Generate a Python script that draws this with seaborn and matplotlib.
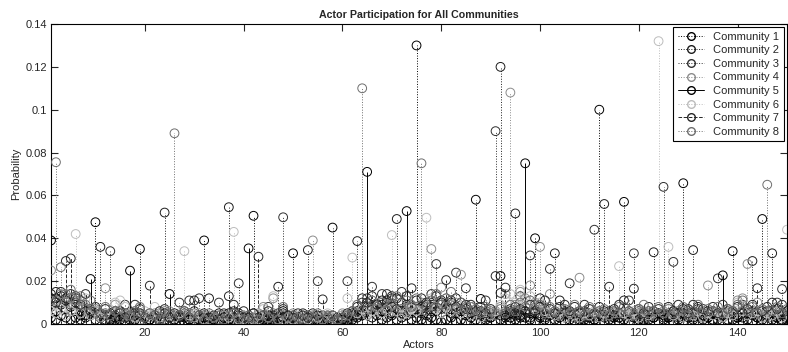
import numpy as np
import pandas as pd
import matplotlib
matplotlib.use("Agg")
import matplotlib.pyplot as plt
from matplotlib.lines import Line2D
from matplotlib.legend_handler import HandlerLine2D
from matplotlib.ticker import MultipleLocator, FuncFormatter
import seaborn as sns

# participation of each actor in each community, in units of 1e-3
actors = list(range(1, 151))

c1 = [39, 12, 9, 11, 8, 6, 4, 3, 5, 47.5, 3, 2, 4, 2, 3, 1, 2, 4, 35, 3, 2, 1, 3, 2, 4,
      2, 3, 1, 2, 3, 2, 39, 3, 2, 1, 3, 5, 2, 3, 1, 2, 50.5, 3, 2, 4, 2, 3, 6, 2, 33,
      2, 1, 3, 2, 1, 2, 1, 45, 2, 3, 2, 4, 6, 5, 8, 7, 9, 6, 8, 5, 7, 6, 9, 8, 130,
      7, 9, 6, 8, 10, 7, 6, 5, 7, 4, 5, 58, 11.7, 4, 3, 5, 22.4, 4, 3, 5, 4, 3, 5, 40, 4,
      3, 5, 4, 3, 5, 4, 3, 2, 4, 3, 2, 100, 3, 5, 4, 3, 57, 4, 5, 3, 2, 4, 3, 5, 4,
      3, 4, 5, 65.7, 4, 3, 5, 4, 3, 2, 4, 3, 2, 34, 4, 3, 5, 4, 3, 49, 4, 5, 3, 2, 4]
c2 = [14, 15, 13, 12, 14, 10, 8, 6, 7, 5, 36, 4, 5, 3, 6, 4, 3, 5, 4, 3, 5, 4, 2, 52, 3,
      4, 3, 5, 4, 6, 3, 4, 12, 3, 5, 4, 54.5, 3, 5, 4, 3, 5, 4, 2, 3, 4, 17.4, 5, 3, 4,
      3, 5, 34.5, 4, 3, 2, 4, 3, 2, 4, 3, 5, 38.7, 6, 4, 8, 6, 9, 11, 13, 49, 5, 4, 6, 8,
      5, 4, 9, 6, 11, 8, 10, 12, 6, 9, 4, 5, 6, 3, 4, 6, 120, 5, 7, 51.6, 4, 6, 3, 5, 12,
      6, 4, 33, 11, 3, 5, 4, 6, 3, 5, 4, 3, 56, 4, 6, 3, 4, 5, 4, 6, 3, 4, 33.5, 5, 3,
      4, 6, 3, 5, 7, 34.5, 4, 3, 5, 6, 4, 3, 5, 4, 3, 6, 4, 29.4, 5, 4, 6, 33, 4, 5, 3]
c3 = [8, 6, 10, 7, 9, 12, 5, 7, 4, 6, 3, 5, 34, 4, 6, 9, 5, 3, 7, 4, 2, 3, 5, 7, 4,
      3, 10, 4, 11, 3, 12, 4, 2, 3, 10, 4, 2, 6, 19, 3, 4, 2, 3, 4, 8, 2, 3, 49.8, 4, 2,
      3, 2, 4, 3, 20, 4, 2, 1, 3, 2, 20, 3, 4, 10, 12, 17.4, 9, 14, 10, 12, 6, 15, 8, 5, 6,
      8, 6, 14, 28, 7, 9, 5, 24, 6, 16.7, 8, 4, 6, 11, 5, 90, 4, 6, 5, 4, 13, 6, 32, 9, 5,
      7, 25.7, 5, 4, 6, 19, 5, 3, 6, 4, 44, 5, 4, 6, 3, 5, 4, 11, 33, 5, 4, 6, 3, 5, 64,
      4, 29, 5, 3, 6, 4, 7, 5, 3, 6, 21.3, 4, 6, 5, 3, 9, 4, 6, 5, 3, 6, 4, 10, 16.3, 5]
c4 = [25, 11, 14, 10, 12, 9, 11, 7, 5, 6, 4, 16.7, 3, 9, 5, 4, 3, 6, 2, 4, 3, 5, 2, 3, 6,
      2, 4, 3, 5, 2, 3, 4, 2, 3, 4, 2, 3, 5, 2, 3, 4, 2, 5, 8, 3, 12, 4, 2, 3, 5,
      2, 4, 3, 39, 2, 3, 4, 2, 3, 5, 4, 3, 5, 4, 6, 5, 7, 4, 6, 11, 5, 7, 6, 9, 5,
      10, 6, 35, 8, 17, 12, 9, 7, 23, 6, 8, 5, 4, 6, 3, 5, 8, 14, 108, 9, 15, 12, 18, 10, 36,
      8, 14, 6, 5, 4, 6, 3, 21.6, 4, 5, 3, 6, 4, 3, 5, 8, 4, 3, 5, 4, 6, 3, 5, 4, 6,
      5, 3, 4, 6, 3, 5, 4, 6, 18, 4, 5, 3, 6, 4, 11, 12, 28, 5, 10, 4, 6, 3, 5, 4, 6]
c5 = [3, 2, 4, 3, 2, 3, 2, 4, 21, 2, 3, 1, 2, 3, 2, 1, 24.9, 2, 1, 3, 2, 1, 2, 1, 14,
      2, 1, 3, 2, 1, 2, 3, 1, 2, 1, 3, 2, 1, 2, 3, 35.3, 2, 1, 3, 2, 1, 2, 3, 1, 2,
      1, 2, 1, 3, 2, 1, 2, 1, 3, 2, 1, 2, 3, 4, 71, 3, 4, 2, 3, 4, 2, 3, 52.7, 2, 3,
      2, 1, 3, 2, 1, 2, 3, 1, 2, 1, 3, 2, 1, 2, 3, 1, 2, 3, 1, 2, 3, 75, 2, 1, 3,
      2, 1, 2, 3, 1, 2, 1, 3, 2, 1, 2, 3, 1, 2, 3, 1, 2, 1, 3, 2, 1, 2, 3, 1, 2,
      3, 1, 2, 1, 3, 2, 1, 2, 3, 1, 2, 22.7, 1, 2, 3, 1, 2, 1, 3, 2, 1, 2, 3, 1, 2]
c6 = [6, 5, 7, 4, 6, 42, 5, 12, 4, 6, 3, 5, 4, 10, 11, 8, 4, 3, 5, 6, 4, 8, 3, 5, 4,
      3, 5, 34, 4, 3, 5, 2, 4, 3, 2, 4, 3, 43, 2, 4, 3, 2, 4, 7, 3, 13, 2, 4, 3, 2,
      4, 3, 2, 4, 3, 2, 5, 3, 2, 4, 12, 31, 5, 7, 4, 6, 8, 5, 7, 41.5, 6, 4, 5, 7, 6,
      9, 49.6, 12, 7, 5, 8, 6, 10, 5, 7, 4, 6, 3, 5, 4, 6, 9, 12, 14, 10, 16, 11, 13, 8, 10,
      6, 5, 4, 6, 3, 5, 4, 3, 5, 4, 6, 3, 5, 4, 6, 27, 5, 4, 6, 3, 5, 4, 6, 132, 5,
      36, 4, 6, 3, 5, 4, 6, 3, 5, 4, 6, 3, 5, 4, 10, 6, 4, 5, 6, 3, 5, 4, 6, 3, 44]
c7 = [12, 10, 15, 29.4, 30.6, 13, 9, 14, 6, 8, 5, 7, 4, 6, 5, 3, 4, 9, 5, 3, 17.9, 4, 6, 5, 3,
      5, 4, 6, 3, 11, 4, 5, 3, 4, 2, 5, 13, 9, 4, 6, 3, 5, 31.4, 4, 6, 3, 5, 7, 4, 3,
      5, 4, 3, 5, 4, 11.5, 3, 4, 2, 3, 5, 6, 8, 12, 10, 13, 9, 11, 14, 8, 12, 10, 13, 16.7, 11,
      12, 10, 8, 13, 9, 20.5, 11, 8, 10, 7, 9, 6, 8, 5, 7, 22.4, 14.5, 17, 6, 8, 7, 5, 9, 6, 8,
      11, 7, 5, 8, 9, 6, 8, 5, 9, 7, 5, 8, 6, 17.4, 7, 9, 11, 6, 16.5, 7, 5, 8, 6, 7, 5,
      8, 6, 9, 7, 5, 9, 8, 7, 6, 8, 5, 9, 7, 6, 8, 5, 7, 9, 16.7, 6, 8, 10, 7, 9, 6]
c8 = [11, 75.5, 26.5, 14, 16, 11, 13, 9, 11, 7, 5, 8, 4, 6, 3, 5, 4, 6, 8, 3, 5, 4, 2, 6, 5,
      89, 4, 6, 3, 5, 4, 2, 5, 3, 4, 2, 4, 5, 3, 2, 4, 3, 2, 4, 3, 5, 2, 8, 3, 4,
      3, 2, 4, 3, 5, 2, 3, 4, 2, 3, 4, 6, 9, 110, 7, 11, 8, 10, 6, 9, 13, 7, 11, 8, 12,
      75, 8, 11, 14, 9, 12, 15, 7, 10, 8, 6, 7, 5, 8, 6, 4, 7, 5, 9, 6, 10, 8, 11, 7, 9,
      5, 8, 6, 4, 7, 5, 9, 6, 4, 8, 5, 6, 7, 4, 6, 5, 8, 6, 4, 7, 9, 5, 6, 8, 5,
      7, 5, 6, 8, 4, 6, 9, 5, 7, 6, 8, 5, 7, 6, 9, 11, 6, 8, 5, 7, 65, 6, 8, 5, 7]

communities = ["Community 1", "Community 2", "Community 3", "Community 4",
               "Community 5", "Community 6", "Community 7", "Community 8"]
series = [c1, c2, c3, c4, c5, c6, c7, c8]

colors = ["#000000", "#1c1c1c", "#303030", "#8c8c8c",
          "#000000", "#bdbdbd", "#262626", "#6e6e6e"]
styles = [":", ":", ":", ":", "-", ":", "--", ":"]

rows = []
for name, vals in zip(communities, series):
    for a, v in zip(actors, vals):
        rows.append((name, a, v / 1000.0))
df = pd.DataFrame(rows, columns=["Community", "Actor", "Probability"])


class StemHandler(HandlerLine2D):
    # marker at the right end of the legend line, like a matlab stem legend
    def get_xdata(self, legend, xdescent, ydescent, width, height, fontsize):
        xdata = np.array([-xdescent, -xdescent + width])
        return xdata, np.array([-xdescent + width - 2])


sns.set_style("ticks")
plt.rcParams["font.family"] = ["Liberation Sans", "DejaVu Sans"]

fig = plt.figure(figsize=(7.88, 3.52), dpi=100)
ax = fig.add_axes([51 / 788, 28 / 352, 736 / 788, 300 / 352])

handles = []
for name, col, ls in zip(communities, colors, styles):
    d = df[df["Community"] == name]
    ax.vlines(d["Actor"], 0, d["Probability"], colors=col, linestyles=ls,
              linewidth=0.7, zorder=2)
    sns.scatterplot(data=d, x="Actor", y="Probability", ax=ax, color=col,
                    marker="o", s=40, linewidth=0.7, legend=False, zorder=3)
    coll = ax.collections[-1]
    coll.set_edgecolor(col)
    coll.set_facecolor("none")
    handles.append(Line2D([0], [0], color=col, linestyle=ls, linewidth=0.7,
                          marker="o", markersize=5.5, markerfacecolor="none",
                          markeredgecolor=col))

ax.set_xlim(1, 150)
ax.set_ylim(0, 0.14)
ax.xaxis.set_major_locator(MultipleLocator(20))
ax.yaxis.set_major_locator(MultipleLocator(0.02))
ax.yaxis.set_major_formatter(FuncFormatter(lambda v, p: "{:g}".format(round(v, 3))))
ax.tick_params(direction="in", top=True, right=True, length=5, width=0.8,
               labelsize=8, pad=3)
for sp in ax.spines.values():
    sp.set_linewidth(0.8)
    sp.set_color("black")

ax.set_xlabel("Actors", fontsize=8, labelpad=1)
ax.set_ylabel("Probability", fontsize=8, labelpad=3)
ax.set_title("Actor Participation for All Communities", fontsize=7.7,
             fontweight="bold", pad=4)

leg = ax.legend(handles, communities, loc="upper right", fontsize=8,
                frameon=True, fancybox=False, edgecolor="black", framealpha=1,
                handlelength=2.4, handletextpad=0.8, labelspacing=0.32,
                borderaxespad=0.3, borderpad=0.4,
                handler_map={Line2D: StemHandler()})
leg.get_frame().set_linewidth(0.8)

fig.savefig("out.png", dpi=100)
